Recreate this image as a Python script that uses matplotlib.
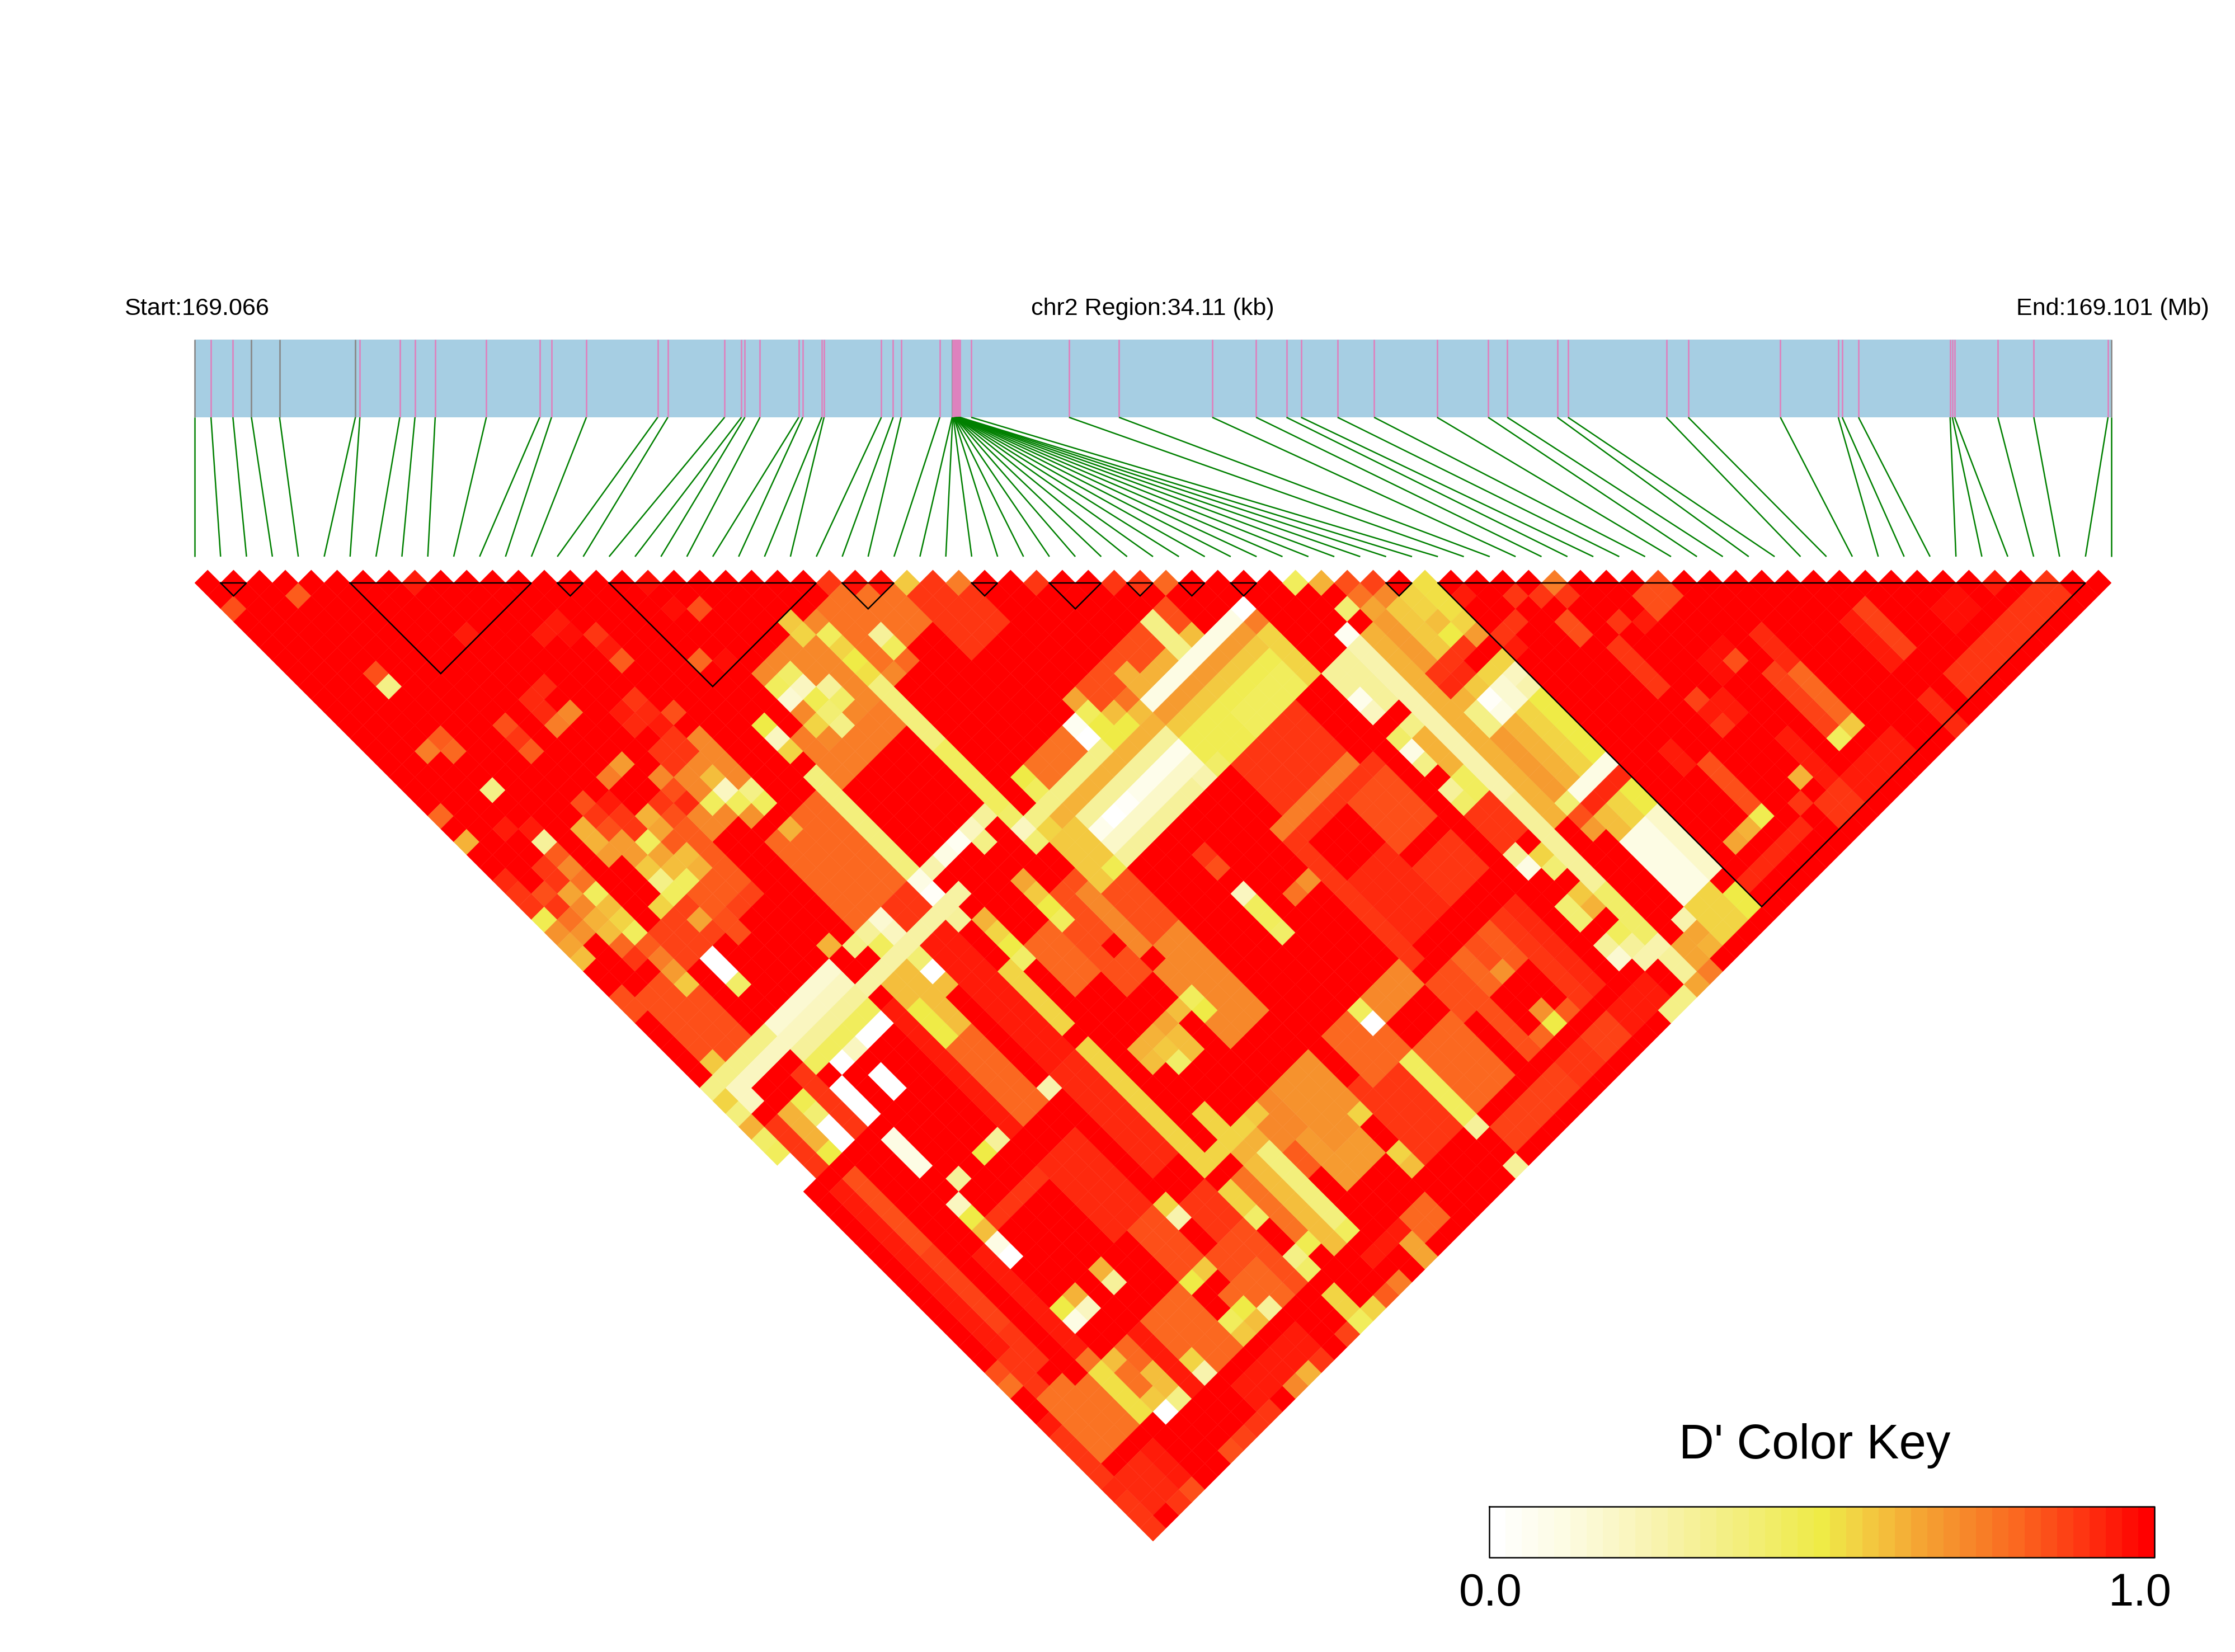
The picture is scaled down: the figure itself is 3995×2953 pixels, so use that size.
import numpy as np
import matplotlib
matplotlib.use("Agg")
import matplotlib.pyplot as plt
from matplotlib.collections import PolyCollection
from matplotlib.colors import LinearSegmentedColormap

plt.rcParams['font.family'] = ['Liberation Sans', 'DejaVu Sans']

# posicoes dos SNPs na regiao (kb a partir do inicio)
snp_kb = [0, 0.29, 0.68, 1.01, 1.51, 2.86, 2.94, 3.65, 3.92, 4.28, 5.19, 6.14, 6.35, 6.97, 8.24,
          8.42, 9.43, 9.73, 9.79, 10.06, 10.75, 10.82, 11.16, 11.20, 12.22, 12.43, 12.57, 13.26,
          13.48, 13.49, 13.50, 13.51, 13.51, 13.52, 13.53, 13.53, 13.54, 13.55, 13.55, 13.56,
          13.57, 13.58, 13.58, 13.59, 13.60, 13.60, 13.61, 13.62, 13.82, 15.56, 16.45, 18.11,
          18.89, 19.43, 19.69, 20.34, 20.99, 22.11, 23.02, 23.36, 24.25, 24.44, 26.19, 26.58,
          28.22, 29.25, 29.32, 29.61, 31.24, 31.28, 31.32, 32.09, 32.73, 34.05, 34.11]
grey_snps = [0, 3, 4, 5, 28, 74]
hap_blocks = [(1, 2), (6, 13), (14, 15), (16, 24), (25, 27), (30, 31), (33, 35), (36, 37),
              (38, 39), (40, 41), (46, 47), (48, 73)]

# D': faixas (i0, i1, j0, j1, valor), o resto vale 1.0
d_bands = [
    # parte de baixo, esquerda
    (1, 1, 49, 61, .93), (2, 2, 49, 54, .85), (2, 2, 55, 60, .87), (4, 4, 57, 66, .93),
    (5, 9, 56, 56, .9), (10, 12, 56, 61, .92), (14, 15, 53, 60, .92), (14, 15, 45, 52, .93),
    (14, 16, 43, 44, .93), (11, 12, 48, 53, .8), (10, 10, 44, 53, .93), (11, 13, 43, 47, .6),
    (11, 11, 45, 47, .5), (1, 1, 44, 47, .9), (2, 2, 44, 46, .62), (4, 4, 43, 47, .88),
    (0, 3, 34, 39, .83), (1, 1, 62, 65, .88), (2, 3, 61, 63, .88), (1, 5, 65, 69, .78),
    (0, 0, 66, 70, .88), (0, 2, 71, 73, .92), (3, 3, 71, 73, .93), (6, 10, 66, 70, .8),
    (7, 7, 66, 70, .95), (11, 12, 62, 65, .85), (14, 15, 63, 66, .9), (13, 15, 66, 70, .85),
    (12, 14, 68, 71, .8), (9, 13, 72, 73, .93), (17, 17, 64, 68, .78), (20, 20, 64, 66, .82),
    (21, 23, 65, 68, .68), (20, 23, 62, 64, .72), (22, 24, 62, 66, .7), (25, 27, 65, 70, .88),
    (22, 23, 72, 73, .8), (21, 21, 72, 74, .65), (19, 21, 72, 72, .95), (17, 19, 62, 62, .55),
    (18, 19, 63, 63, .62), (16, 16, 64, 65, .55), (16, 16, 66, 66, .42),
    # centro e direita de baixo
    (33, 35, 57, 61, .92), (36, 38, 59, 61, .88), (36, 38, 54, 57, .85), (32, 32, 54, 62, .88),
    (32, 37, 52, 52, .75), (32, 38, 53, 53, .9), (33, 37, 48, 51, .9), (29, 31, 62, 63, .72),
    (26, 28, 62, 65, .8), (29, 31, 66, 70, .8), (38, 38, 64, 70, .92), (37, 37, 64, 70, .88),
    (36, 36, 64, 70, .82), (35, 35, 64, 70, .85), (34, 34, 64, 70, .8), (33, 33, 64, 70, .85),
    (32, 32, 64, 66, .85), (34, 36, 67, 69, 1), (37, 40, 72, 73, .93), (36, 37, 71, 73, .87),
    (34, 35, 72, 73, .9), (29, 33, 72, 73, .87), (20, 24, 46, 52, .85), (22, 24, 52, 58, .72),
    (28, 29, 48, 49, .9), (18, 19, 47, 50, .8), (22, 22, 47, 53, .72),
    # parte de cima, esquerda
    (12, 15, 33, 39, .8), (12, 15, 40, 41, .9), (10, 13, 26, 30, .72), (4, 9, 32, 34, .86),
    (7, 9, 29, 33, .82), (17, 21, 30, 33, .74), (18, 23, 26, 31, .72), (23, 26, 26, 30, .76),
    (27, 29, 29, 33, .88), (25, 27, 40, 41, .78), (30, 32, 39, 41, .85), (33, 36, 39, 41, .85),
    (32, 36, 41, 41, .62),
    # cunha amarela central
    (32, 39, 43, 43, .66), (32, 39, 44, 44, .58), (32, 39, 45, 47, .48), (35, 38, 46, 47, .44),
    (39, 39, 44, 47, .56), (32, 39, 42, 42, .12), (25, 31, 44, 44, .3), (25, 31, 45, 45, .08),
    (25, 31, 46, 46, .18), (25, 31, 47, 47, .3), (23, 28, 42, 42, .35), (24, 31, 43, 43, .62),
    (23, 24, 44, 47, .58), (24, 24, 47, 47, .48),
    # listras longas
    (22, 22, 31, 35, .38), (22, 22, 36, 41, .45), (16, 16, 32, 39, .38), (16, 16, 40, 42, .04),
    (16, 16, 47, 51, .56), (16, 16, 53, 62, .56), (28, 28, 66, 70, .46), (19, 19, 64, 71, .38),
    (18, 18, 64, 70, .6), (42, 42, 47, 52, .25), (42, 42, 53, 59, .26), (42, 42, 60, 66, .3),
    (42, 42, 67, 70, .42), (5, 5, 45, 47, 0), (5, 5, 49, 51, .12), (7, 7, 46, 47, 0),
    (5, 9, 40, 40, .15), (5, 9, 41, 41, .2), (5, 9, 42, 42, .3), (5, 9, 43, 43, .45),
    (1, 4, 40, 40, .35), (1, 4, 41, 41, .2), (10, 17, 42, 42, .28), (16, 19, 40, 40, .1),
    # cunhas a esquerda do bloco grande
    (43, 43, 48, 62, .62), (44, 44, 47, 51, .66), (45, 45, 48, 51, .58), (44, 46, 52, 52, .88),
    (44, 45, 53, 53, .92), (44, 44, 57, 64, .66), (45, 45, 57, 61, .62), (46, 46, 57, 61, .55),
    (47, 47, 57, 61, .5), (45, 47, 62, 62, .12), (45, 47, 63, 63, .92), (45, 45, 64, 65, .6),
    (46, 46, 64, 65, .56), (47, 47, 64, 65, .5), (45, 45, 66, 69, .03), (45, 47, 66, 70, .1),
    (47, 47, 66, 70, .18), (40, 41, 48, 51, .3), (40, 41, 59, 61, .88), (41, 41, 54, 56, .62),
    (44, 46, 71, 73, .62), (45, 46, 71, 73, .56),
    # dentro do bloco grande
    (52, 52, 58, 61, .88), (51, 51, 55, 56, .85), (63, 63, 66, 69, .87), (62, 62, 66, 69, .95),
    (66, 67, 69, 70, .97), (64, 71, 72, 73, .9), (62, 62, 72, 74, .92), (58, 58, 63, 65, .92),
    (57, 57, 65, 70, .87), (58, 58, 66, 69, .8), (50, 50, 64, 65, .95), (51, 51, 66, 70, .85),
    (55, 55, 68, 71, .93), (47, 52, 72, 72, .92), (54, 57, 72, 73, .9), (56, 59, 72, 73, .95),
    (55, 56, 57, 58, .85),
    # listras vermelhas por cima dos tons
    (5, 9, 57, 61, 1), (13, 13, 56, 61, 1), (17, 20, 56, 60, 1), (25, 31, 57, 61, 1), (25, 31, 48, 52, 1),
    (3, 3, 55, 65, 1), (5, 9, 64, 65, 1), (13, 15, 62, 62, 1), (8, 26, 71, 71, 1), (28, 38, 71, 71, 1),
    (30, 39, 74, 74, 1), (0, 0, 35, 40, 1), (0, 0, 48, 61, 1), (13, 13, 46, 52, 1), (16, 16, 43, 46, 1),
]

# celulas soltas (i, j, valor)
d_cells = [
    (3, 5, .82), (0, 3, .85), (8, 13, .95), (3, 11, .83), (3, 12, .35), (3, 16, .82), (2, 16, .75),
    (3, 17, .8), (3, 20, .35), (0, 19, .8), (0, 21, .63), (2, 22, .93), (3, 23, .93), (3, 24, .3),
    (12, 16, .95), (11, 16, .95), (12, 17, .97), (13, 18, .88), (13, 19, .93), (13, 20, .82),
    (17, 20, .97), (18, 21, .85), (16, 23, .8), (17, 24, .96), (9, 18, .92), (8, 18, .92),
    (8, 19, .92), (9, 20, .72), (8, 20, .75), (6, 18, .85), (6, 19, .88), (6, 20, .82),
    (12, 22, .9), (11, 22, .93), (12, 23, .92), (11, 23, .92), (13, 24, .85), (12, 24, .93),
    (11, 25, .9), (12, 25, .9), (11, 26, .9), (12, 26, .9), (9, 24, .68), (8, 24, .75),
    (6, 24, .85), (6, 25, .9), (7, 25, .93), (7, 26, .88), (7, 27, .88), (8, 27, .63), (9, 27, .88),
    (10, 27, .85), (10, 28, .92), (5, 25, .63), (5, 26, .63), (6, 26, .85), (6, 27, .68),
    (7, 28, .45), (6, 28, .68), (5, 27, .68), (8, 28, .65), (9, 28, .85), (7, 29, .65), (6, 29, .58),
    (6, 30, .35), (7, 30, .6), (8, 30, .6), (8, 31, .62), (6, 31, .45), (7, 31, .45), (5, 31, .55),
    (3, 25, .82), (3, 26, .72), (3, 27, .78), (3, 28, .45), (3, 29, .6), (3, 30, .55), (3, 31, .45),
    (3, 32, .82), (2, 25, .88), (2, 26, .88), (2, 27, .65), (2, 28, .72), (2, 29, .62), (2, 30, .6),
    (2, 31, .8), (2, 32, .88), (0, 24, .92), (0, 25, .88), (0, 26, .88), (0, 27, .48), (1, 27, .88),
    (1, 26, .85), (1, 28, .78), (1, 29, .7), (0, 28, .7), (0, 29, .65), (0, 30, .6), (0, 33, .85),
    (0, 34, .85), (5, 35, 0), (5, 36, 0), (5, 37, .42), (6, 33, .65), (7, 34, .85), (7, 35, .85),
    (3, 34, .68), (3, 35, .58), (3, 33, .75), (1, 39, .58), (0, 40, .35), (0, 41, .55), (0, 42, .38),
    (21, 25, .58), (21, 26, .55), (22, 27, .45), (22, 28, .55), (22, 29, .5), (22, 30, .52),
    (24, 29, .3), (24, 30, .45), (24, 31, .8), (19, 27, .42), (18, 28, .15), (19, 28, .2),
    (18, 27, .45), (19, 29, .48), (20, 29, .3), (20, 30, .42), (19, 30, .4), (19, 31, .35),
    (18, 30, .55), (16, 28, .5), (16, 29, .2), (16, 30, .55), (11, 29, .45), (12, 29, .2),
    (13, 30, .35), (12, 30, .45), (13, 31, .45), (12, 31, .7), (12, 28, .6), (13, 33, .62),
    (10, 39, .62), (35, 40, .35), (35, 39, .35), (35, 41, .35), (36, 41, .6), (32, 40, .62),
    (29, 40, .45), (28, 40, .05), (28, 41, 0), (29, 39, .65), (29, 41, .5), (30, 41, .6),
    (31, 41, .78), (29, 42, .5), (30, 42, .5), (31, 42, .6), (24, 40, .5), (24, 41, .45),
    (39, 42, 0), (39, 43, .75), (26, 45, .02), (27, 45, .03), (32, 47, .42), (31, 47, .25),
    (8, 44, 0), (9, 44, 0), (6, 44, 0), (7, 44, .2), (3, 44, .48), (3, 45, .4), (3, 46, .02), (3, 47, .02),
    (2, 47, .5), (1, 42, .2), (13, 44, 0),
    (13, 43, .4), (19, 40, .05), (18, 40, .1), (17, 40, .25), (13, 40, .15), (13, 41, .2),
    (12, 40, .3), (11, 40, .35), (12, 41, .45), (16, 43, .3), (21, 40, .3), (22, 41, .42),
    (20, 40, .2), (20, 41, .35), (22, 42, .2), (22, 43, .4), (23, 43, .55), (28, 53, .2),
    (28, 50, .88), (28, 51, .85), (28, 54, .45), (28, 55, .45), (28, 56, .42), (31, 55, .7), (30, 55, .78),
    (22, 55, .45), (22, 56, .5), (21, 55, .6), (20, 47, .45), (20, 46, .5), (20, 45, .58), (20, 44, .65),
    (21, 50, 1), (22, 52, 1), (18, 54, 1), (16, 52, 1), (21, 54, 1),
    (17, 47, .42), (17, 46, .5), (17, 45, .55), (17, 44, .62), (19, 57, .42), (20, 57, .6),
    (19, 56, .58), (19, 55, .62), (18, 55, .62), (18, 56, .6), (20, 56, .6), (20, 55, .65),
    (13, 53, .25), (13, 63, .25), (13, 62, .55), (28, 62, .45), (28, 63, 0), (24, 66, .55), (18, 60, .55),
    (18, 61, .55), (20, 62, .58), (24, 69, .55), (24, 70, .6), (9, 53, .3), (8, 53, .5), (5, 54, .2),
    (5, 55, .5), (5, 56, .6),
    (6, 53, .3), (5, 57, .1), (5, 58, .02), (0, 46, 0), (0, 47, .02), (0, 45, .45), (0, 44, .42),
    (0, 43, .62), (5, 62, .5), (5, 63, .1), (6, 63, .2), (6, 62, .62), (8, 63, .3), (8, 62, .62),
    (11, 66, .5), (12, 66, .58), (11, 69, .45), (12, 69, .5), (13, 70, .3), (12, 70, .6),
    (11, 70, .58), (8, 70, .25), (8, 69, .55), (4, 66, .52), (4, 67, .52), (4, 68, .52), (4, 69, .52),
    (5, 70, 0), (6, 70, .35), (5, 69, .58), (6, 68, .6), (6, 69, .6), (5, 66, .6),
    (0, 62, .85), (0, 63, .78), (0, 66, .93), (0, 74, .88), (2, 74, .88), (3, 74, .85), (6, 74, .85),
    (7, 74, .87), (8, 74, .88), (9, 74, .88), (11, 74, .72), (12, 74, .62), (13, 74, .88), (15, 74, .87),
    (16, 74, .45), (17, 74, .55), (18, 74, .82), (19, 74, .75), (0, 73, .9), (0, 72, .9),
    (19, 70, .45), (16, 69, .35), (17, 69, .48), (16, 70, .42), (16, 72, .55), (16, 73, .55),
    (35, 70, .5), (35, 69, .7), (35, 66, .7), (28, 71, .3), (28, 74, .3), (40, 63, .1), (40, 62, .3),
    (41, 63, .55), (41, 64, .4), (41, 66, .58), (41, 67, .62),
    (40, 67, .4), (40, 66, .4), (40, 70, .15), (40, 69, .3), (41, 69, .45), (41, 71, .25), (41, 70, .3),
    (44, 71, .25), (44, 72, .65), (42, 71, .25), (42, 72, .3), (42, 73, .3), (42, 74, .65), (43, 74, .75),
    (43, 72, .65), (43, 73, .65), (41, 74, .35), (40, 74, .35), (40, 50, .08), (40, 51, .2),
    (42, 47, .05), (40, 53, .42), (40, 54, .12), (40, 55, .35), (41, 53, .35), (40, 57, .3),
    (40, 58, .42), (41, 58, .45), (41, 57, .45), (46, 48, .55), (46, 49, .55), (46, 50, .6),
    (46, 51, .5), (46, 54, .55), (45, 54, .58), (44, 54, .62), (45, 55, .03), (46, 55, .15),
    (45, 56, .1), (46, 56, .15), (44, 55, .35), (44, 56, .35), (47, 48, .52), (47, 49, .52),
    (47, 50, .52), (47, 51, .55), (47, 52, .68), (47, 54, .55), (47, 55, .2), (47, 56, .25),
    (47, 71, .98), (47, 72, .5), (47, 73, .5), (48, 50, .93), (50, 52, .88), (51, 53, .88),
    (52, 54, .88), (49, 53, .9), (48, 53, .9), (48, 54, .93), (53, 57, .9), (54, 58, .93),
    (56, 62, .97), (56, 63, .85), (55, 62, .97), (55, 63, .97), (58, 70, .58), (57, 70, .45),
    (53, 63, .87), (54, 64, .95), (53, 64, .93), (53, 65, .9), (54, 65, .95), (51, 70, .48),
    (50, 70, .62), (49, 70, .65), (54, 70, .63), (53, 71, .88), (44, 63, .85), (44, 62, .4),
    (43, 46, .4), (44, 46, .78), (45, 47, .72), (44, 47, .65),
]

# diagonal superior (i, i+1) quando difere de 1.0
top_row = {8: .95, 17: .97, 24: .9, 25: .96, 26: .96, 27: .58, 28: .88, 29: .75, 32: .88, 35: .88,
           36: .9, 37: .8, 42: .45, 43: .63, 44: .85, 45: .87, 47: .52, 52: .75, 56: .85, 69: .95}

key_labels = ["0.0", "1.0"]

n = len(snp_kb)
D = np.ones((n, n))
for i0, i1, j0, j1, v in d_bands:
    D[i0:i1 + 1, j0:j1 + 1] = v
for i, j, v in d_cells:
    D[i, j] = v
for i, v in top_row.items():
    D[i, i + 1] = v

cores = [(0, '#FFFFFF'), (.1, '#FDFCE4'), (.2, '#FAF6C0'), (.3, '#F6F19A'), (.4, '#F2EE72'),
         (.5, '#EFEB46'), (.55, '#F2D444'), (.6, '#F4BE3C'), (.65, '#F5A533'), (.72, '#F78A2B'),
         (.8, '#FB6820'), (.9, '#FE3612'), (1, '#FF0000')]
cmap = LinearSegmentedColormap.from_list('dprime', cores, N=41)

fig = plt.figure(figsize=(3995 / 300, 2953 / 300), dpi=300)
ax = fig.add_axes([0, 0, 1, 1])
ax.set_xlim(0, 3995)
ax.set_ylim(2953, 0)
ax.axis('off')

x0, x1 = 348, 3774
h = (x1 - x0) / (n - 1) / 2
y_top = 1042

# faixa da regiao e marcas dos SNPs
ax.fill_between([x0, x1], 607, 746, color='#A6CEE3', lw=0)
x_snp = x0 + np.array(snp_kb) / snp_kb[-1] * (x1 - x0)
x_bot = np.linspace(x0, x1, n)
for k in range(n):
    cor = '#888888' if k in grey_snps else '#DE82BE'
    ax.plot([x_snp[k], x_snp[k]], [607, 746], color=cor, lw=0.65, solid_capstyle='butt', zorder=2)
for k in range(n):
    ax.plot([x_snp[k], x_bot[k]], [746, 995], color='#008000', lw=0.6, solid_capstyle='butt', zorder=2)

# triangulo de LD
polys, vals = [], []
for i in range(n):
    for j in range(i + 1, n):
        cx = x0 + h * (i + j)
        cy = y_top + h * (j - i - 1)
        polys.append([(cx - h, cy), (cx, cy - h), (cx + h, cy), (cx, cy + h)])
        vals.append(D[i, j])
pc = PolyCollection(polys, array=np.array(vals), cmap=cmap, clim=(0, 1), edgecolors='face', linewidths=0.1)
ax.add_collection(pc)

# blocos de haplotipos
for a, b in hap_blocks:
    xa, xb = x0 + 2 * h * a, x0 + 2 * h * b
    ax.plot([xa, xb, (xa + xb) / 2, xa], [y_top, y_top, y_top + (xb - xa) / 2, y_top],
            color='black', lw=0.6, solid_joinstyle='miter', zorder=3)

# textos
ax.text(222, 563, "Start:169.066", fontsize=10.35, ha='left', va='baseline')
ax.text(2060, 563, "chr2 Region:34.11 (kb)", fontsize=10.35, ha='center', va='baseline')
ax.text(3949, 563, "End:169.101 (Mb)", fontsize=10.35, ha='right', va='baseline')

# escala de cores
ax.imshow(np.linspace(0, 1, 41)[None, :], cmap=cmap, vmin=0, vmax=1, aspect='auto',
          extent=(2662, 3851, 2784, 2693), interpolation='nearest', zorder=2)
ax.plot([2662, 3851, 3851, 2662, 2662], [2693, 2693, 2784, 2784, 2693], color='black', lw=0.6, zorder=3)
ax.set_xlim(0, 3995)
ax.set_ylim(2953, 0)
ax.text(3244, 2607, "D' Color Key", fontsize=20.9, ha='center', va='baseline')
ax.text(2664, 2870, key_labels[0], fontsize=19.5, ha='center', va='baseline')
ax.text(3825, 2870, key_labels[1], fontsize=19.5, ha='center', va='baseline')

fig.savefig('out.png', dpi=300)
